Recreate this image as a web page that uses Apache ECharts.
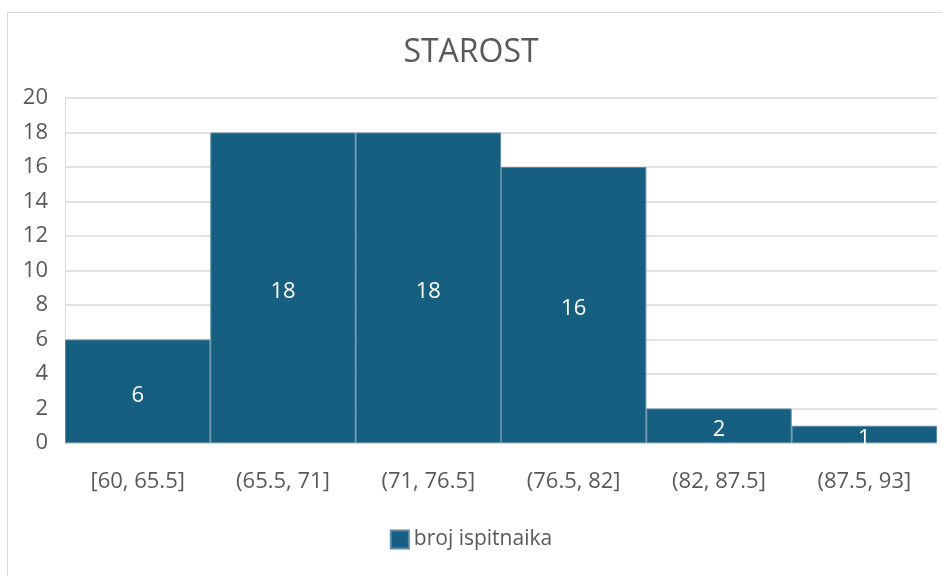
<!DOCTYPE html>
<html>
<head>
<meta charset="utf-8">
<script src="https://cdn.jsdelivr.net/npm/echarts@6/dist/echarts.min.js"></script>
<style>
html,body{margin:0;padding:0;background:#fff;}
#c{width:942px;height:576px;}
</style>
</head>
<body>
<div id="c"></div>
<script>
const categories = ["[60, 65.5]", "(65.5, 71]", "(71, 76.5]", "(76.5, 82]", "(82, 87.5]", "(87.5, 93]"];
const counts = [6, 18, 18, 16, 2, 1];
const seriesName = "broj ispitnaika";
const titleText = "STAROST";
const yMin = 0, yMax = 20, yStep = 2;

const FONT = "'Open Sans', 'Noto Sans', sans-serif";
const chart = echarts.init(document.getElementById('c'), null, {renderer: 'canvas'});
chart.setOption({
  animation: false,
  backgroundColor: '#fff',
  graphic: [{
    type: 'rect', silent: true, z: -10,
    shape: {x: 7.5, y: 12.5, width: 960, height: 600},
    style: {fill: 'none', stroke: '#d9d9d9', lineWidth: 1}
  }],
  title: {
    text: titleText, left: 'center', top: 32,
    textStyle: {fontFamily: FONT, fontSize: 32, fontWeight: 'normal', color: '#595959'}
  },
  legend: {
    bottom: 21, left: 'center',
    itemWidth: 18, itemHeight: 18, icon: 'rect', itemGap: 10,
    textStyle: {fontFamily: FONT, fontSize: 21, color: '#595959'},
    data: [seriesName]
  },
  grid: {left: 65, right: 5, top: 98, bottom: 133, containLabel: false},
  xAxis: {
    type: 'category', data: categories,
    axisLine: {show: true, lineStyle: {color: '#d9d9d9', width: 1}},
    axisTick: {show: false},
    axisLabel: {fontFamily: FONT, fontSize: 22, color: '#595959', margin: 28}
  },
  yAxis: {
    type: 'value', min: yMin, max: yMax, interval: yStep,
    axisLine: {show: true, lineStyle: {color: '#d9d9d9'}},
    axisTick: {show: false},
    splitLine: {lineStyle: {color: '#d9d9d9', width: 1.5}},
    axisLabel: {fontFamily: FONT, fontSize: 22, color: '#595959', margin: 17}
  },
  series: [{
    name: seriesName, type: 'bar', data: counts,
    barCategoryGap: '0%',
    itemStyle: {color: '#175F80', borderColor: '#5a8aa4', borderWidth: 1},
    label: {show: true, position: 'inside', offset: [0, 4], fontFamily: FONT, fontSize: 22, color: '#ffffff'}
  }]
});
</script>
</body>
</html>
